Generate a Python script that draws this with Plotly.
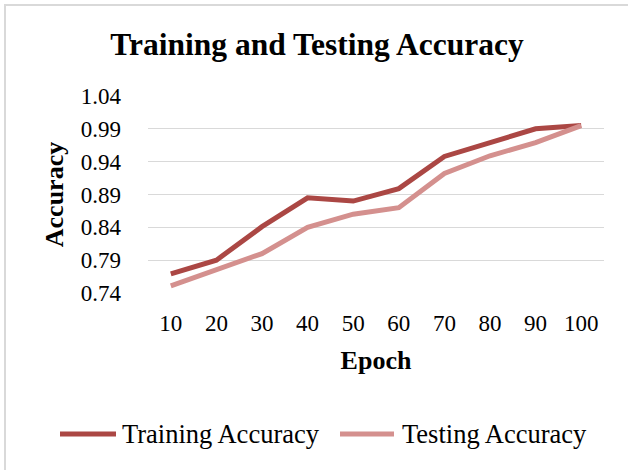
import plotly.graph_objects as go

# Data
epochs = ["10", "20", "30", "40", "50", "60", "70", "80", "90", "100"]
train_acc = [0.769, 0.790, 0.841, 0.885, 0.880, 0.899, 0.948, 0.969, 0.990, 0.995]
test_acc = [0.751, 0.776, 0.800, 0.840, 0.860, 0.870, 0.922, 0.949, 0.969, 0.995]
y_ticks = [0.74, 0.79, 0.84, 0.89, 0.94, 0.99, 1.04]
series_names = ["Training Accuracy", "Testing Accuracy"]
series_colors = ["#AB4744", "#D4908E"]

FONT = "Liberation Serif, Times New Roman, serif"

fig = go.Figure()
for name, vals, color in zip(series_names, [train_acc, test_acc], series_colors):
    fig.add_trace(go.Scatter(x=epochs, y=vals, mode='lines', name=name,
                             line=dict(color=color, width=5), showlegend=False))

# plot area in pixels: x 148..604, y 96..293
L, R, T, B = 148, 24, 96, 177
pw, ph = 628 - L - R, 470 - T - B

def px_x(p):
    return (p - L) / pw

def px_y(p):
    return (470 - B - p) / ph

# light chart border (only top and left edges fall inside the crop)
fig.add_shape(type='rect', xref='paper', yref='paper',
              x0=px_x(5), x1=px_x(700), y0=px_y(560), y1=px_y(5),
              line=dict(color='#d9d9d9', width=2), layer='below')

# legend drawn by hand so the swatches are as long as Excel's
legend_items = [(60, 116, 120), (340, 394, 400)]
for (x0, x1, tx), name, color in zip(legend_items, series_names, series_colors):
    fig.add_shape(type='line', xref='paper', yref='paper',
                  x0=px_x(x0), x1=px_x(x1), y0=px_y(434), y1=px_y(434),
                  line=dict(color=color, width=5))
    fig.add_annotation(text=name, xref='paper', yref='paper', x=px_x(tx), y=px_y(434),
                       xanchor='left', yanchor='middle', showarrow=False,
                       font=dict(size=26.5, color='black'))

fig.update_layout(
    width=628, height=470,
    margin=dict(l=L, r=R, t=T, b=B),
    paper_bgcolor='white', plot_bgcolor='white',
    font=dict(family=FONT, size=23, color='black'),
    title=dict(text='<b>Training and Testing Accuracy</b>', font=dict(size=31.5),
               x=px_x(317), xref='paper', xanchor='center',
               y=1 - 44 / 470, yref='container', yanchor='middle'),
    xaxis=dict(type='category', range=[-0.5, 9.5], showgrid=False, showline=False,
               zeroline=False, ticks='', ticklabelstandoff=14,
               title=dict(text='<b>Epoch</b>', font=dict(size=26), standoff=15)),
    yaxis=dict(range=[0.74, 1.04], tickvals=y_ticks, ticktext=[f"{v:.2f}" for v in y_ticks],
               showgrid=True, gridcolor='#d9d9d9', gridwidth=1.3, zeroline=False, showline=False,
               ticks='', ticklabelstandoff=26,
               title=dict(text='<b>Accuracy</b>', font=dict(size=26), standoff=9)),
    showlegend=False,
)

fig.write_html("out.html", config={'displayModeBar': False},
               post_script="document.body.style.margin='0';")
